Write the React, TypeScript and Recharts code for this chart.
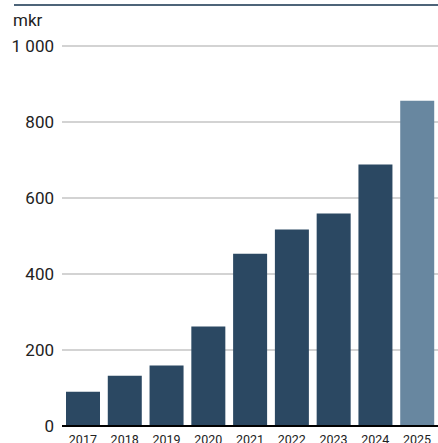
import React from "react";
import { BarChart, Bar, XAxis, YAxis, CartesianGrid, Cell } from "recharts";

const years = ["2017", "2018", "2019", "2020", "2021", "2022", "2023", "2024", "2025"];
const amounts = [90, 132, 159, 262, 453, 517, 559, 688, 856];
const yTicks = [0, 200, 400, 600, 800, 1000];

const dark = "#2b4862";
const light = "#6887a0";

const data = years.map((year, i) => ({ year, amount: amounts[i] }));

// thousands with a space, "1 000"
const fmt = (v: number) => String(v).replace(/\B(?=(\d{3})+(?!\d))/g, "\u00a0");

export default function App() {
  const font = "Roboto, 'Noto Sans', sans-serif";
  return (
    <div style={{ position: "absolute", left: 0, top: 0, width: 438, height: 443, overflow: "hidden", background: "#fff", fontFamily: font }}>
      <div style={{ position: "absolute", left: 14, top: 4, width: 424, height: 0, borderTop: "2px solid #4d6479" }} />
      <div style={{ position: "absolute", left: 13, top: 10, fontSize: 17, color: "#222", lineHeight: "20px" }}>mkr</div>
      <BarChart
        width={438}
        height={460}
        data={data}
        margin={{ top: 46, right: 0, bottom: 0, left: 0 }}
        style={{ position: "absolute", left: 0, top: 0 }}
      >
        <CartesianGrid vertical={false} stroke="#c4c4c4" strokeWidth={1.5} />
        <XAxis
          dataKey="year"
          height={34}
          tickLine={false}
          axisLine={{ stroke: "#000", strokeWidth: 2 }}
          tickMargin={3}
          interval={0}
          tick={{ fontSize: 12.5, fill: "#222", fontFamily: font }}
        />
        <YAxis
          width={62}
          domain={[0, 1000]}
          ticks={yTicks}
          tickFormatter={fmt}
          tickLine={false}
          axisLine={false}
          tick={{ fontSize: 17, fill: "#222", fontFamily: font }}
        />
        <Bar dataKey="amount" barSize={34} isAnimationActive={false}>
          {data.map((d, i) => (
            <Cell key={d.year} fill={i === data.length - 1 ? light : dark} />
          ))}
        </Bar>
      </BarChart>
    </div>
  );
}
